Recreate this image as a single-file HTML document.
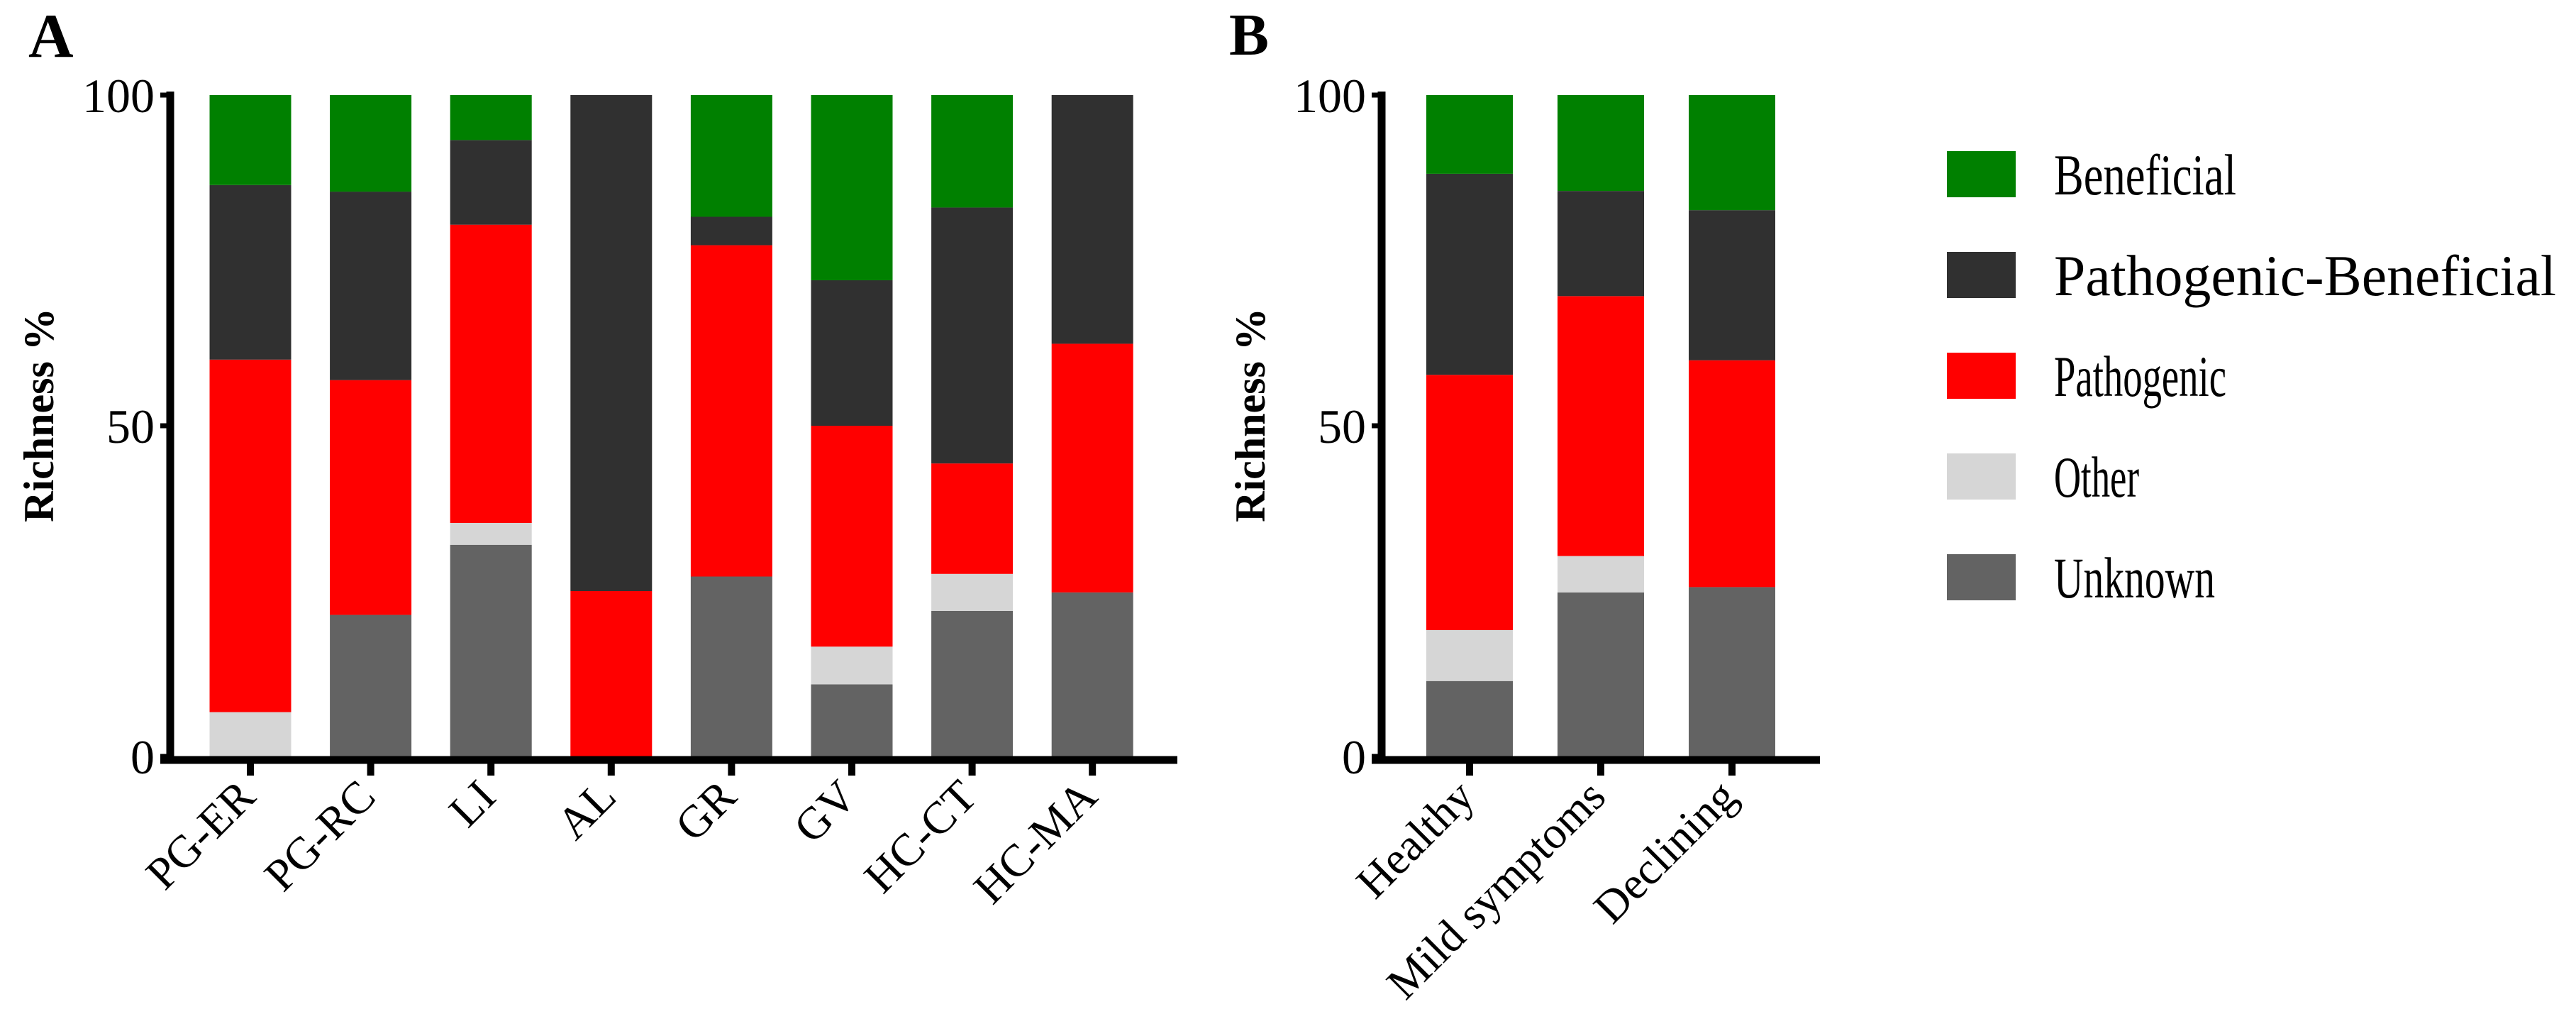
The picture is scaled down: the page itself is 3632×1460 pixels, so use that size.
<!DOCTYPE html>
<html><head><meta charset="utf-8"><style>
html,body{margin:0;padding:0;background:#fff;}
svg{display:block;font-family:"Liberation Serif",serif;}
</style></head><body>
<svg id="chart" width="3632" height="1460" viewBox="0 0 3632 1460" xmlns="http://www.w3.org/2000/svg">
<rect width="3632" height="1460" fill="#fff"/>
<text x="40" y="80" font-size="88" font-weight="bold">A</text>
<text x="1733" y="77" font-size="84" font-weight="bold">B</text>
<text transform="translate(75,585) rotate(-90)" text-anchor="middle" font-size="60" font-weight="bold">Richness %</text>
<text transform="translate(1783,585) rotate(-90)" text-anchor="middle" font-size="60" font-weight="bold">Richness %</text>
<g id="gA"></g><g id="gB"></g><g id="legend"></g>
</svg>
<script>
const seriesNames = ["Unknown","Other","Pathogenic","Pathogenic-Beneficial","Beneficial"];
const seriesColors = ["#636363","#d6d6d6","#ff0000","#303030","#008000"];
const yTicks = [0,50,100];
// Panel A
const catsA = ["PG-ER","PG-RC","LI","AL","GR","GV","HC-CT","HC-MA"];
const unknownA = [0,21.4,32,0,27.2,10.9,22,24.8];
const otherA = [6.7,0,3.3,0,0,5.7,5.6,0];
const pathA = [53.3,35.5,45.1,25,50.1,33.4,16.7,37.6];
const pbA = [26.4,28.5,12.8,75,4.3,22,38.7,37.6];
const benA = [13.6,14.6,6.8,0,18.4,28,17,0];
// Panel B
const catsB = ["Healthy","Mild symptoms","Declining"];
const unknownB = [11.4,24.8,25.6];
const otherB = [7.7,5.5,0];
const pathB = [38.6,39.3,34.3];
const pbB = [30.4,15.9,22.7];
const benB = [11.9,14.5,17.4];

const NS="http://www.w3.org/2000/svg";
function mk(tag,attrs,parent){const e=document.createElementNS(NS,tag);for(const k in attrs)e.setAttribute(k,attrs[k]);parent.appendChild(e);return e;}
const y0=1066,y100=134;
function yS(v){return y0-(v/100)*(y0-y100);}

function panel(g,cats,series,axisX,axisEnd,c0,step,bw,id){
  cats.forEach((c,i)=>{
    const cx=c0+step*i;let acc=0;
    series.forEach((arr,s)=>{
      const v=arr[i];if(v<=0){return;}
      const r=mk('rect',{x:cx-bw/2,y:yS(acc+v),width:bw,height:yS(acc)-yS(acc+v),fill:seriesColors[s]},g);
      
      
      acc+=v;
    });
    const t=mk('line',{x1:cx,y1:y0,x2:cx,y2:1093,stroke:'#000','stroke-width':10},g);
    
    
    const lb=mk('text',{transform:`translate(${cx+10},1126) rotate(-45)`,'text-anchor':'end','font-size':64},g);
    
    
    lb.textContent=c;
  });
  const ya=mk('line',{x1:axisX,y1:y100-5,x2:axisX,y2:y0+5,stroke:'#000','stroke-width':11},g);
  
  
  const xa=mk('line',{x1:axisX-14,y1:y0+5,x2:axisEnd,y2:y0+5,stroke:'#000','stroke-width':11},g);
  
  
  yTicks.forEach(v=>{
    const tk=mk('line',{x1:axisX-14,y1:yS(v),x2:axisX,y2:yS(v),stroke:'#000','stroke-width':7},g);
    
    
    const tl=mk('text',{x:axisX-22,y:yS(v)+24,'text-anchor':'end','font-size':68},g);
    
    
    tl.textContent=v;
  });
}
panel(document.getElementById('gA'),catsA,[unknownA,otherA,pathA,pbA,benA],240,1660,353,169.6,115,'a');
panel(document.getElementById('gB'),catsB,[unknownB,otherB,pathB,pbB,benB],1948,2566,2072,185,122,'b');

const lg=document.getElementById('legend');
const legOrder=[4,3,2,1,0];
const legWidths=[257,708,243,120,227];
legOrder.forEach((s,i)=>{
  const y=213+142*i;
  const r=mk('rect',{x:2745,y:y,width:97,height:65,fill:seriesColors[s]},lg);
  
  
  const t=mk('text',{x:2896,y:y+61,'font-size':82,textLength:legWidths[i],lengthAdjust:'spacingAndGlyphs'},lg);
  
  
  t.textContent=seriesNames[s];
});
</script>
</body></html>
